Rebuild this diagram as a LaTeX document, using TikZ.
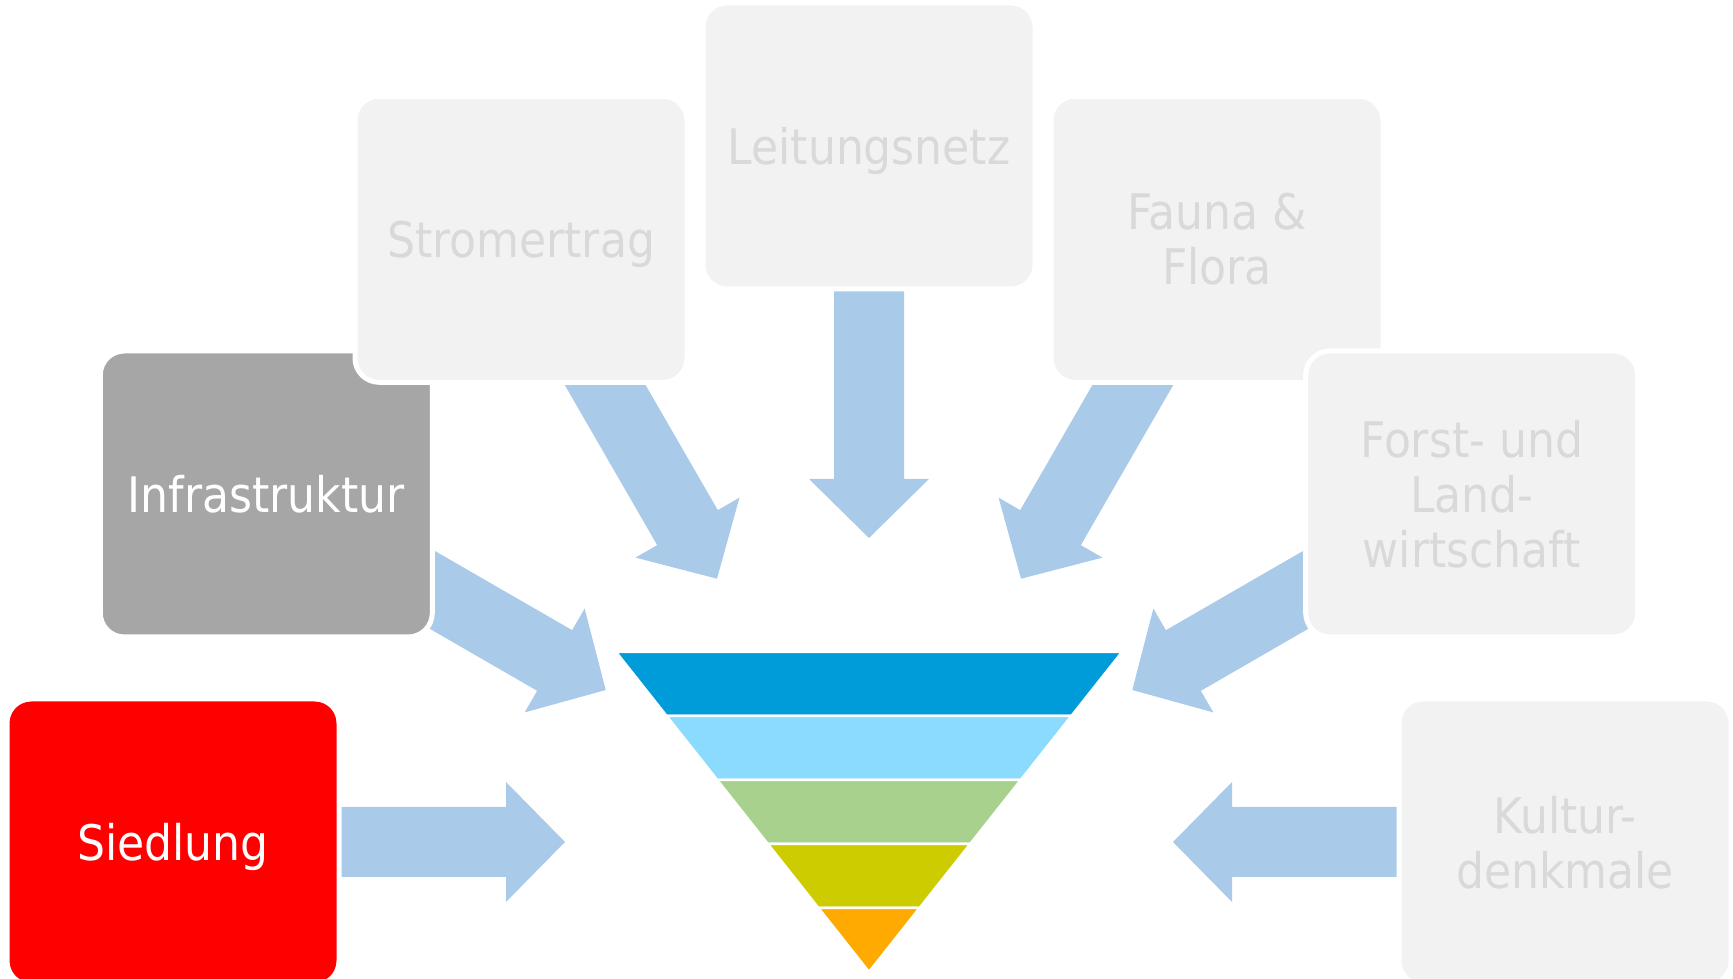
\documentclass[tikz,border=0pt]{standalone}
\usepackage{fontspec}
\setmainfont{DejaVu Sans Condensed}
\definecolor{arrowblue}{RGB}{170,202,233}
\definecolor{boxlight}{RGB}{242,242,242}
\definecolor{textlight}{RGB}{217,217,217}
\definecolor{boxgrey}{RGB}{166,166,166}
\definecolor{boxred}{RGB}{255,0,0}
\definecolor{bandA}{RGB}{0,155,217}
\definecolor{bandB}{RGB}{139,219,255}
\definecolor{bandC}{RGB}{169,209,142}
\definecolor{bandD}{RGB}{204,204,0}
\definecolor{bandE}{RGB}{255,170,0}
\newcommand{\blockarrow}[1]{%
  \begin{scope}[shift={(C)}, rotate=#1]
    \fill[arrowblue] (304,0) -- (363,60) -- (363,35) -- (640,35) -- (640,-35)
      -- (363,-35) -- (363,-60) -- cycle;
  \end{scope}}
\begin{document}
\begin{tikzpicture}[x=1pt,y=1pt,
  box/.style={rounded corners=24pt, draw=white, line width=5pt,
    minimum width=332pt, minimum height=286pt, inner sep=0pt,
    text depth=0pt,
    align=center, font=\fontsize{49}{55}\selectfont},
  lightbox/.style={box, fill=boxlight, text=textlight},
  band/.style={draw=white, line width=2.5pt}]
\useasboundingbox (0,0) rectangle (1733,979);
\coordinate (C) at (869,137);

% block arrows (drawn under the boxes)
\blockarrow{180}
\blockarrow{150}
\blockarrow{120}
\blockarrow{90}
\blockarrow{60}
\blockarrow{30}
\blockarrow{0}

% boxes
\node[box, fill=boxred, text=white] (siedlung) at (173,137) {Siedlung};
\node[box, fill=boxgrey, text=white] (infra) at (266.3,485) {Infrastruktur};
\node[lightbox] (strom) at (521,739.7) {Stromertrag};
\node[lightbox] (leitung) at (869,833) {Leitungsnetz};
\node[lightbox] (fauna) at (1217,739.7) {Fauna \&\\Flora};
\node[lightbox] (forst) at (1471.7,485) {Forst- und\\Land-\\wirtschaft};
\node[lightbox] (kultur) at (1565,137) {Kultur-\\denkmale};

% funnel
\fill[bandA, band] (616,327) -- (1122,327) -- (1071.4,263) -- (666.6,263) -- cycle;
\fill[bandB, band] (666.6,263) -- (1071.4,263) -- (1020.8,199) -- (717.2,199) -- cycle;
\fill[bandC, band] (717.2,199) -- (1020.8,199) -- (970.2,135) -- (767.8,135) -- cycle;
\fill[bandD, band] (767.8,135) -- (970.2,135) -- (919.6,71) -- (818.4,71) -- cycle;
\fill[bandE, band] (818.4,71) -- (919.6,71) -- (869,7) -- cycle;
\end{tikzpicture}
\end{document}
